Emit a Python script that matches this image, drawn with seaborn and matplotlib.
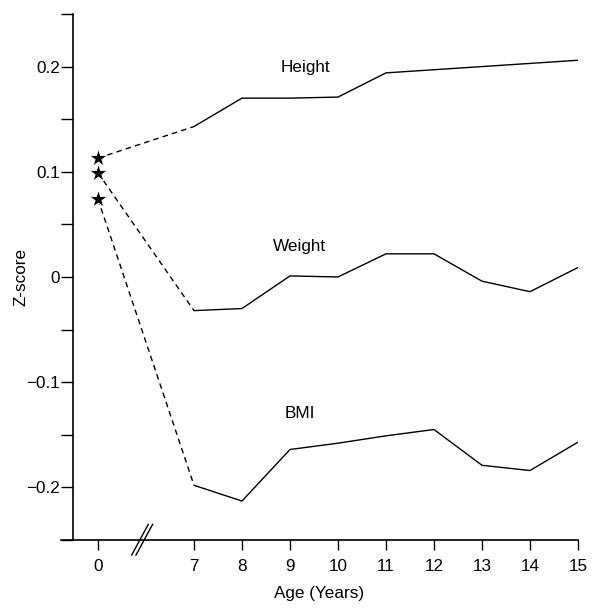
import numpy as np
import pandas as pd
import seaborn as sns
import matplotlib.pyplot as plt

# ages shown on the x axis; age 0 sits before the axis break
ages = [0, 7, 8, 9, 10, 11, 12, 13, 14, 15]
height = [0.113, 0.143, 0.170, 0.170, 0.171, 0.194, 0.197, 0.200, 0.203, 0.206]
weight = [0.099, -0.032, -0.030, 0.001, 0.000, 0.022, 0.022, -0.004, -0.014, 0.009]
bmi = [0.074, -0.198, -0.213, -0.164, -0.158, -0.151, -0.145, -0.179, -0.184, -0.157]
series = {"Height": height, "Weight": weight, "BMI": bmi}
label_pos = {"Height": (9.33, 0.199), "Weight": (9.2, 0.029), "BMI": (9.2, -0.130)}

sns.set_style("ticks")
plt.rcParams["font.family"] = ["Liberation Sans", "DejaVu Sans"]
plt.rcParams["axes.unicode_minus"] = True
for k in ("text.color", "axes.labelcolor", "xtick.color", "ytick.color", "axes.edgecolor"):
    plt.rcParams[k] = "black"

FS = 12.3

# age 0 is drawn at position 5 (compressed axis)
pos = [5 if a == 0 else a for a in ages]
rows = []
for name, vals in series.items():
    for p, v in zip(pos, vals):
        rows.append({"pos": p, "z": v, "var": name})
df = pd.DataFrame(rows)

fig = plt.figure(figsize=(6, 6.1), dpi=100)
ax = fig.add_axes([0.1017, 0.1148, 0.8616, 0.8623])

for name in series:
    d = df[df["var"] == name]
    sns.lineplot(data=d[d["pos"] >= 7], x="pos", y="z", color="black", lw=1.0, ax=ax)
    sns.lineplot(data=d.iloc[:2], x="pos", y="z", color="black", lw=1.0,
                 linestyle=(0, (4, 3)), ax=ax)
    ax.text(*label_pos[name], name, fontsize=FS, ha="center", va="center")

sns.scatterplot(data=df[df["pos"] == 5], x="pos", y="z", marker="*", s=170,
                color="black", edgecolor="white", linewidth=0.5, zorder=5, ax=ax)

ax.set_xlim(4.23, 15)
ax.set_ylim(-0.25, 0.25)
ax.spines["left"].set_position(("data", 4.48))
ax.spines["right"].set_visible(False)
ax.spines["top"].set_visible(False)
ax.set_xticks(pos)
ax.set_xticklabels([str(a) for a in ages])
ax.set_yticks([-0.2, -0.1, 0, 0.1, 0.2])
ax.set_yticklabels(["\u22120.2", "\u22120.1", "0", "0.1", "0.2"])
ax.set_yticks([-0.25, -0.15, -0.05, 0.05, 0.15, 0.25], minor=True)
ax.tick_params(axis="y", which="both", length=8.5, width=1, labelsize=FS, pad=1)
ax.tick_params(axis="x", length=7, width=1, labelsize=FS, pad=7)
for s in ax.spines.values():
    s.set_linewidth(1.2)
ax.set_xlabel("Age (Years)", fontsize=FS, labelpad=8)
ax.set_ylabel("Z-score", fontsize=FS, labelpad=-2)

# axis break marks
tr = ax.get_xaxis_transform()
for off in (0.0, 0.09):
    ax.plot([5.70 + off, 6.05 + off], [-0.029, 0.030], transform=tr,
            color="black", lw=1.0, clip_on=False)

fig.savefig("out.png", dpi=100)
